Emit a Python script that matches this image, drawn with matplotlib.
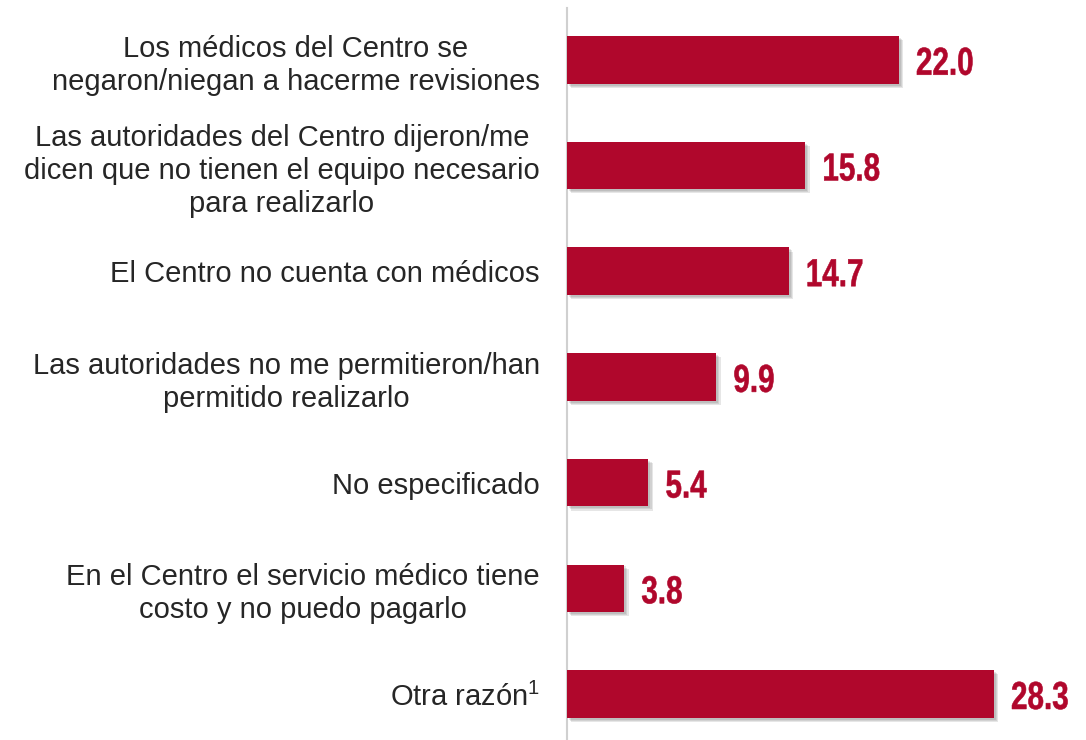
import matplotlib
matplotlib.use("Agg")
import matplotlib.pyplot as plt
import matplotlib.patheffects as pe
from matplotlib.textpath import TextPath
from matplotlib.patches import PathPatch
from matplotlib.font_manager import FontProperties
from matplotlib.transforms import Affine2D

categories = [
    "Los médicos del Centro se\nnegaron/niegan a hacerme revisiones",
    "Las autoridades del Centro dijeron/me\ndicen que no tienen el equipo necesario\npara realizarlo",
    "El Centro no cuenta con médicos",
    "Las autoridades no me permitieron/han\npermitido realizarlo",
    "No especificado",
    "En el Centro el servicio médico tiene\ncosto y no puedo pagarlo",
    r"Otra razón$^{\mathrm{1}}$",
]
values = [22.0, 15.8, 14.7, 9.9, 5.4, 3.8, 28.3]

bar_color = "#B0072C"
text_color = "#262626"

plt.rcParams["font.family"] = ["Liberation Sans", "DejaVu Sans"]
plt.rcParams["mathtext.fontset"] = "custom"
plt.rcParams["mathtext.rm"] = "Liberation Sans"

DPI = 100
fig = plt.figure(figsize=(10.86, 7.4), dpi=DPI)
ax = fig.add_axes([567 / 1086, 0.0, 1 - 567 / 1086 - 6 / 1086, 1 - 8 / 740])

pos = list(range(len(values)))
bars = ax.barh(pos, values, height=0.45, color=bar_color, zorder=3)
shadow = [
    pe.SimplePatchShadow(offset=(o, -o), shadow_rgbFace="#444444", alpha=0.13)
    for o in (3.0, 2.2, 1.4)
]
for b in bars:
    b.set_path_effects(shadow + [pe.Normal()])

ax.set_xlim(0, 34.0)
ax.set_ylim(len(values) - 1 + 0.435, -0.49)

# value labels: bold, horizontally condensed glyph outlines
label_prop = FontProperties(family="Liberation Sans", weight="bold")
em_px = 39.0
x_squeeze = 0.76
gap_px = 17.0
for p, v in zip(pos, values):
    tp = TextPath((0, 0), f"{v:.1f}", size=1, prop=label_prop)
    xd, yd = ax.transData.transform((v, p))
    tr = (Affine2D().scale(em_px * x_squeeze, em_px)
          .translate(xd + gap_px, yd - 0.716 * em_px / 2 - 1))
    ax.add_artist(PathPatch(tp, transform=tr, facecolor=bar_color,
                            edgecolor=bar_color, linewidth=0.4, clip_on=False))

ax.set_yticks(pos)
ax.set_yticklabels(categories, fontsize=21, color=text_color, linespacing=1.22)
ax.tick_params(axis="y", length=0, pad=19.5)
for lbl in ax.get_yticklabels():
    lbl.set_horizontalalignment("right")
    lbl.set_multialignment("center")
ax.set_xticks([])

for s in ["top", "right", "bottom"]:
    ax.spines[s].set_visible(False)
ax.spines["left"].set_color("#D0D0D0")
ax.spines["left"].set_linewidth(1.5)

fig.savefig("out.png", dpi=DPI, facecolor="white")
